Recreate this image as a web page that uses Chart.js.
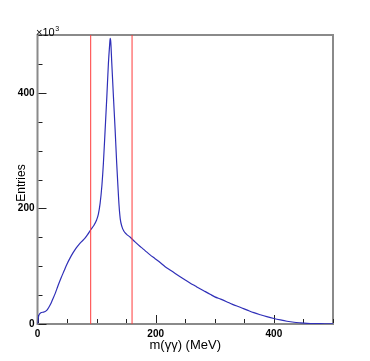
<!DOCTYPE html>
<html>
<head>
<meta charset="utf-8">
<script src="https://cdn.jsdelivr.net/npm/chart.js@4"></script>
<style>
  html, body { margin: 0; padding: 0; background: #fff; }
  #c { display: block; }
</style>
</head>
<body>
<canvas id="c" width="370" height="361"></canvas>
<script>
// ---- data (m in MeV, entries in units of 10^3) ----
const massMeV = [0, 2, 4, 7, 10, 13, 16, 19, 22, 25, 30, 35, 40, 45, 50, 55, 60, 65, 70, 75,
  80, 85, 90, 95, 100, 103, 106, 109, 111.5, 114.4, 117.3, 120, 122, 123, 124, 125.7, 128.5,
  131.4, 134, 136, 138, 140, 143, 146, 150, 157, 165, 175, 182, 190, 199, 208, 216, 225, 233,
  242, 250, 258, 267, 275, 284, 292, 300, 310, 320, 330, 343, 355, 366, 377, 388, 400, 411,
  422, 434, 445, 456, 468, 479, 490, 500];
const entriesK = [0, 14, 18, 20, 20.5, 21.5, 24, 28.5, 34, 41, 53, 67, 80, 92, 104, 114, 123, 131, 137.5, 143,
  148, 155, 163, 170, 180, 190, 209, 240, 278, 335, 393, 451, 482, 494, 488, 451, 393,
  335, 278, 240, 205, 182, 168, 161, 156, 150, 142, 133, 127, 120, 113, 106, 99, 93, 87.5,
  81.5, 76, 71, 65.7, 61, 56, 51.5, 47, 43, 38.6, 34, 29, 24, 19.6, 16, 12.7, 9.5, 7,
  4.8, 3, 2, 1.2, 0.7, 0.5, 0.4, 0.3];
const cutLines = [90, 160];
const xTickLabels = [0, 200, 400];
const yTickLabels = [0, 200, 400];
const xTitle = 'm(γγ) (MeV)';
const yTitle = 'Entries';

const curve = massMeV.map((m, i) => ({ x: m, y: entriesK[i] }));
const cutSets = cutLines.map(v => ({
  data: [{ x: v, y: 0 }, { x: v, y: 500 }],
  borderColor: '#ff3b3b', borderWidth: 1, pointRadius: 0, fill: false
}));

const FRAME = '#8a8a8a';
const rootStyle = {
  id: 'rootStyle',
  beforeDatasetsDraw(chart) {
    const { ctx, chartArea: a, scales } = chart;
    ctx.save();
    // frame
    ctx.strokeStyle = FRAME;
    ctx.lineWidth = 2;
    ctx.strokeRect(a.left, a.top, a.right - a.left, a.bottom - a.top);
    // inward tick marks from the library's scales
    ctx.strokeStyle = '#222';
    ctx.lineWidth = 1;
    scales.x.ticks.forEach(t => {
      const px = Math.round(scales.x.getPixelForValue(t.value)) + 0.5;
      const len = (t.value % 200 === 0) ? 8 : 4;
      ctx.beginPath(); ctx.moveTo(px, a.bottom - 1); ctx.lineTo(px, a.bottom - 1 - len); ctx.stroke();
    });
    scales.y.ticks.forEach(t => {
      const py = Math.round(scales.y.getPixelForValue(t.value)) + 0.5;
      const len = (t.value % 200 === 0) ? 8 : 4;
      ctx.beginPath(); ctx.moveTo(a.left + 1, py); ctx.lineTo(a.left + 1 + len, py); ctx.stroke();
    });
    ctx.restore();
  },
  afterDraw(chart) {
    const { ctx, chartArea: a } = chart;
    ctx.save();
    ctx.fillStyle = '#000';
    ctx.font = '13px "Liberation Sans", Arial, sans-serif';
    ctx.textAlign = 'center';
    ctx.textBaseline = 'middle';
    ctx.fillText(xTitle, (a.left + a.right) / 2, 345);
    ctx.save();
    ctx.translate(22, 183);
    ctx.rotate(-Math.PI / 2);
    ctx.font = '12px "Liberation Sans", Arial, sans-serif';
    ctx.fillText(yTitle, 0, 0);
    ctx.restore();
    // x10^3 exponent label
    ctx.textAlign = 'left';
    ctx.textBaseline = 'alphabetic';
    ctx.font = '11px "Liberation Sans", Arial, sans-serif';
    ctx.fillText('×10', 36, 35.5);
    const w = ctx.measureText('×10').width;
    ctx.font = '7px "Liberation Sans", Arial, sans-serif';
    ctx.fillText('3', 36 + w + 0.5, 31);
    ctx.restore();
  }
};

new Chart(document.getElementById('c'), {
  type: 'line',
  data: {
    datasets: [
      ...cutSets,
      {
        data: curve,
        borderColor: '#2f2fb8', borderWidth: 1.2, pointRadius: 0, fill: false,
        cubicInterpolationMode: 'monotone'
      }
    ]
  },
  options: {
    responsive: false,
    animation: false,
    events: [],
    layout: { padding: { top: 35, right: 37, left: 0, bottom: 0 } },
    plugins: { legend: { display: false }, tooltip: { enabled: false } },
    scales: {
      x: {
        type: 'linear', min: 0, max: 500,
        grid: { display: false, drawTicks: false }, border: { display: false },
        ticks: {
          stepSize: 50, autoSkip: false, maxRotation: 0, padding: 4, color: '#000',
          font: { family: '"Liberation Sans", Arial, sans-serif', size: 10, weight: 'bold' },
          callback: v => xTickLabels.includes(v) ? String(v) : ''
        },
        afterFit: s => { s.height = 37; }
      },
      y: {
        type: 'linear', min: 0, max: 500,
        grid: { display: false, drawTicks: false }, border: { display: false },
        ticks: {
          stepSize: 50, autoSkip: false, padding: 3, color: '#000',
          font: { family: '"Liberation Sans", Arial, sans-serif', size: 10, weight: 'bold' },
          callback: v => yTickLabels.includes(v) ? String(v) : ''
        },
        afterFit: s => { s.width = 37.5; }
      }
    }
  },
  plugins: [rootStyle]
});
</script>
</body>
</html>
